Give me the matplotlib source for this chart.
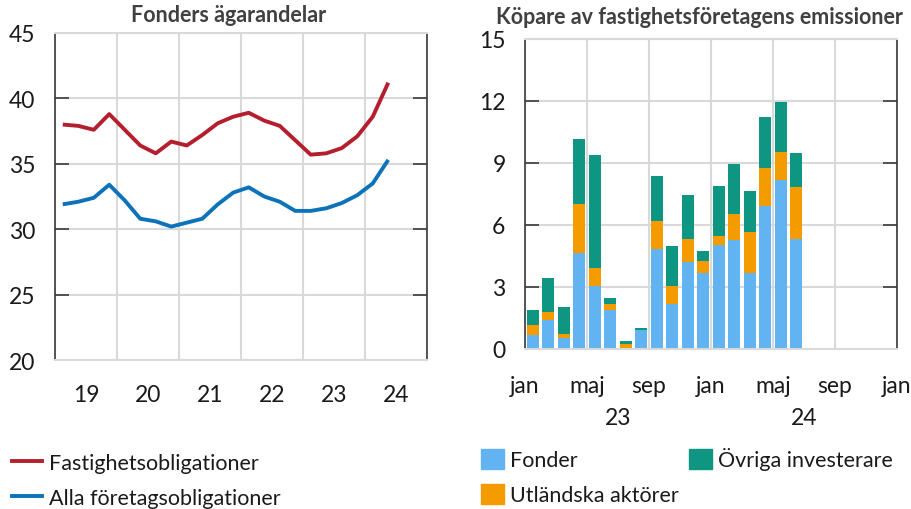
import numpy as np
import matplotlib.pyplot as plt
from matplotlib.patches import Patch
from matplotlib.lines import Line2D
import matplotlib.transforms as mtransforms

plt.rcParams['font.family'] = ['Lato', 'DejaVu Sans']

# Left panel: fund ownership shares (percent), quarterly 2019 Q1 - 2024 Q2
quarters = [f"{y}Q{q}" for y in range(2019, 2025) for q in range(1, 5)][:22]
fastighet = [38.0, 37.9, 37.6, 38.8, 37.6, 36.4, 35.8, 36.7, 36.4, 37.2, 38.1, 38.6,
             38.9, 38.3, 37.9, 36.8, 35.7, 35.8, 36.2, 37.1, 38.6, 41.2]
alla = [31.9, 32.1, 32.4, 33.4, 32.2, 30.8, 30.6, 30.2, 30.5, 30.8, 31.9, 32.8,
        33.2, 32.5, 32.1, 31.4, 31.4, 31.6, 32.0, 32.6, 33.5, 35.3]
year_labels = ["19", "20", "21", "22", "23", "24"]

# Right panel: buyers of property companies' issues, monthly jan 2023 - jun 2024
months = [f"{y}-{m:02d}" for y in (2023, 2024) for m in range(1, 13)][:18]
fonder = [0.65, 1.37, 0.50, 4.61, 3.04, 1.86, 0.0, 0.90, 4.80, 2.17, 4.17, 3.67,
          5.04, 5.27, 3.65, 6.90, 8.16, 5.30]
utland = [0.51, 0.42, 0.21, 2.39, 0.86, 0.31, 0.21, 0.02, 1.37, 0.87, 1.13, 0.56,
          0.41, 1.24, 1.99, 1.84, 1.38, 2.51]
ovriga = [0.71, 1.65, 1.28, 3.13, 5.47, 0.27, 0.13, 0.07, 2.20, 1.91, 2.13, 0.51,
          2.44, 2.43, 1.97, 2.49, 2.40, 1.68]
month_labels = ["jan", "maj", "sep", "jan", "maj", "sep", "jan"]
bar_years = ["23", "24"]

RED = "#B41F2D"
BLUE = "#0C72BA"
C_FOND = "#61B4F1"
C_UTL = "#F49B00"
C_OVR = "#0F9682"
GRID = "#D9D9D9"
TXT = "#1a1a1a"
TITLE = "#404040"
FS = 16.5

fig = plt.figure(figsize=(9.12, 5.1), dpi=100)
ax1 = fig.add_axes([55 / 912, 1 - 361 / 510, 372 / 912, 327 / 510])
ax2 = fig.add_axes([525 / 912, 1 - 349.5 / 510, 372 / 912, 309.5 / 510])


def style(ax):
    for s in ("left", "right"):
        ax.spines[s].set_color("#3a3a3a")
        ax.spines[s].set_linewidth(1.2)
    for s in ("top", "bottom"):
        ax.spines[s].set_color(GRID)
        ax.spines[s].set_linewidth(1.5)
    ax.grid(True, color=GRID, linewidth=1.5)
    ax.set_axisbelow(True)
    ax.tick_params(axis="y", direction="in", length=10, width=1.2, color="#3a3a3a",
                   left=True, right=True, labelsize=FS, pad=14, labelcolor=TXT)
    ax.tick_params(axis="x", which="both", length=0, labelsize=FS, labelcolor=TXT)


# ---- left panel
xq = [int(q[:4]) + (int(q[-1]) - 1) * 0.25 + 0.125 for q in quarters]
ax1.plot(xq, fastighet, color=RED, lw=2.8, solid_capstyle="butt")
ax1.plot(xq, alla, color=BLUE, lw=2.8, solid_capstyle="butt")
ax1.set_xlim(2019, 2025)
ax1.set_ylim(20, 45)
ax1.set_yticks(np.arange(20, 46, 5))
ax1.set_xticks(np.arange(2019, 2026, 1))
ax1.set_xticklabels([])
ax1.set_xticks(np.arange(2019.5, 2025, 1), minor=True)
ax1.set_xticklabels(year_labels, minor=True)
style(ax1)
ax1.tick_params(axis="x", which="minor", pad=17)
ax1.grid(False, axis="x", which="minor")

# ---- right panel
xm = np.arange(len(months)) + 0.5
w = 0.78
ax2.bar(xm, fonder, w, color=C_FOND)
ax2.bar(xm, utland, w, bottom=fonder, color=C_UTL)
ax2.bar(xm, ovriga, w, bottom=np.add(fonder, utland), color=C_OVR)
ax2.set_xlim(0, 24)
ax2.set_ylim(0, 15)
ax2.set_yticks(np.arange(0, 16, 3))
ax2.set_xticks(np.arange(0, 25, 4))
ax2.set_xticklabels(month_labels)
style(ax2)
ax2.tick_params(axis="x", pad=19)
trans = mtransforms.blended_transform_factory(ax2.transData, ax2.transAxes)
for i, yl in enumerate(bar_years):
    ax2.text(6 + 12 * i, -0.222, yl, transform=trans, ha="center", va="center",
             fontsize=FS, color=TXT)

# titles
fig.text(229 / 912, 1 - 16 / 510, "Fonders ägarandelar", ha="center", va="center",
         fontsize=15.5, fontweight="bold", color=TITLE)
fig.text(699 / 912, 1 - 18 / 510, "Köpare av fastighetsföretagens emissioner",
         ha="center", va="center", fontsize=15.5, fontweight="bold", color=TITLE)

# legends
h1 = [Line2D([], [], color=RED, lw=2.8), Line2D([], [], color=BLUE, lw=2.8)]
fig.legend(h1, ["Fastighetsobligationer", "Alla företagsobligationer"],
           loc="upper left", bbox_to_anchor=(12 / 912, 1 - 454 / 510), frameon=False,
           fontsize=15.5, handlelength=1.4, handletextpad=0.3, labelspacing=0.68,
           borderaxespad=0, borderpad=0, labelcolor=TXT)
h2 = [Patch(color=C_FOND), Patch(color=C_UTL), Patch(color=C_OVR)]
fig.legend(h2, ["Fonder", "Utländska aktörer", "Övriga investerare"],
           loc="upper left", bbox_to_anchor=(481 / 912, 1 - 448 / 510), frameon=False,
           ncol=2, fontsize=15.5, handlelength=1.07, handleheight=1.07, handletextpad=0.3,
           labelspacing=0.65, columnspacing=0.45, borderaxespad=0, borderpad=0,
           labelcolor=TXT)

fig.savefig("out.png", dpi=100)
